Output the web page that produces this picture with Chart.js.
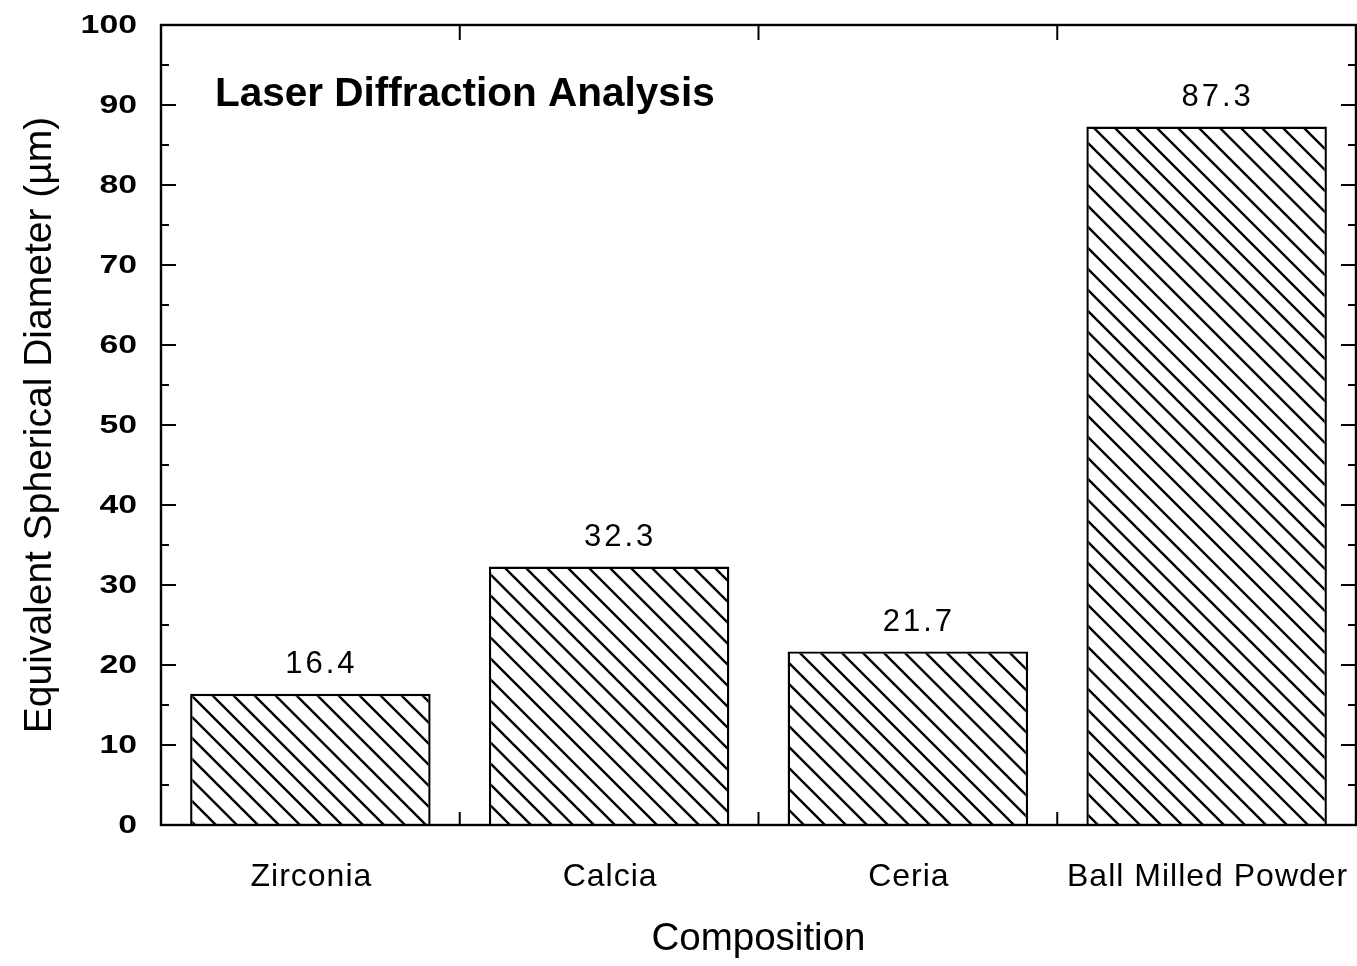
<!DOCTYPE html>
<html><head><meta charset="utf-8">
<script src="https://cdn.jsdelivr.net/npm/chart.js@4/dist/chart.umd.min.js"></script>
<style>html,body{margin:0;padding:0;background:#fff}canvas{display:block}</style>
</head><body>
<canvas id="c" width="1357" height="966"></canvas>
<script>
const categories = ['Zirconia', 'Calcia', 'Ceria', 'Ball Milled Powder'];
const diameters = [16.4, 32.3, 21.7, 87.3];
const valueLabels = ['16.4', '32.3', '21.7', '87.3'];
const chartTitle = 'Laser Diffraction Analysis';
const xTitle = 'Composition';
const yTitle = 'Equivalent Spherical Diameter (\u00b5m)';
const yMin = 0, yMax = 100, yMinorStep = 5, yMajorStep = 10;

const FONT = "'Liberation Sans', Arial, Helvetica, sans-serif";
Chart.defaults.font.family = FONT;
Chart.defaults.color = '#000';

function makeHatch() {
  const s = 21;
  const c = document.createElement('canvas');
  c.width = s; c.height = s;
  const g = c.getContext('2d');
  g.fillStyle = '#fff'; g.fillRect(0, 0, s, s);
  g.strokeStyle = '#000'; g.lineWidth = 2.4;
  g.beginPath();
  for (const o of [-s, 0, s]) { g.moveTo(o - 3, -3); g.lineTo(o + s + 3, s + 3); }
  g.stroke();
  return g.createPattern(c, 'repeat');
}

const framePlugin = {
  id: 'frame',
  afterDatasetsDraw(chart) {
    const { ctx, chartArea: a, scales: { x, y } } = chart;
    ctx.save();
    ctx.strokeStyle = '#000'; ctx.lineWidth = 2.4;
    ctx.strokeRect(a.left, a.top, a.right - a.left, a.bottom - a.top);
    ctx.lineWidth = 2;
    ctx.beginPath();
    y.ticks.forEach(t => {
      const py = y.getPixelForValue(t.value);
      const L = t.value % yMajorStep === 0 ? 15 : 8;
      ctx.moveTo(a.left, py); ctx.lineTo(a.left + L, py);
      ctx.moveTo(a.right, py); ctx.lineTo(a.right - L, py);
    });
    for (let i = 1; i < categories.length; i++) {
      const px = (x.getPixelForValue(i - 1) + x.getPixelForValue(i)) / 2;
      ctx.moveTo(px, a.top); ctx.lineTo(px, a.top + 15);
      ctx.moveTo(px, a.bottom); ctx.lineTo(px, a.bottom - 13);
    }
    ctx.stroke();

    ctx.fillStyle = '#000';
    ctx.font = 'bold 26px ' + FONT;
    ctx.textAlign = 'right'; ctx.textBaseline = 'middle';
    y.ticks.forEach(t => {
      if (t.value % yMajorStep !== 0) return;
      ctx.save();
      ctx.translate(a.left - 24, y.getPixelForValue(t.value) + 1);
      ctx.scale(1.3, 1);
      ctx.fillText(String(t.value), 0, 0);
      ctx.restore();
    });

    const meta = chart.getDatasetMeta(0);
    ctx.font = '31px ' + FONT;
    ctx.letterSpacing = '3px';
    ctx.textAlign = 'center';
    meta.data.forEach((b, i) => ctx.fillText(valueLabels[i], b.x + 11, b.y - 29));

    ctx.letterSpacing = '0px';
    ctx.font = 'bold 40.5px ' + FONT;
    ctx.textAlign = 'left';
    ctx.fillText(chartTitle, a.left + 54, a.top + 70);
    ctx.restore();
  }
};

new Chart(document.getElementById('c'), {
  type: 'bar',
  data: {
    labels: categories,
    datasets: [{
      data: diameters,
      backgroundColor: makeHatch(),
      borderColor: '#000',
      borderWidth: 2.4,
      categoryPercentage: 1.0,
      barPercentage: 0.805
    }]
  },
  options: {
    responsive: false,
    animation: false,
    events: [],
    layout: { padding: { top: 25, right: 1, left: 0, bottom: 0 } },
    plugins: { legend: { display: false }, tooltip: { enabled: false } },
    scales: {
      x: {
        grid: { display: false, drawTicks: false },
        border: { display: false },
        ticks: { font: { size: 32 }, padding: 33, color: '#000', maxRotation: 0 },
        title: { display: true, text: xTitle, font: { size: 38.5 }, padding: { top: 0, bottom: 4 }, color: '#000' },
        afterFit(s) {
          s.height = 141; s.paddingLeft = 0; s.paddingRight = 0;
          if (!s._spaced) {
            const orig = s.drawLabels.bind(s);
            s.drawLabels = function (area) {
              this.ctx.save();
              this.ctx.letterSpacing = '1px';
              this.ctx.translate(1, 0);
              orig(area);
              this.ctx.restore();
            };
            s._spaced = true;
          }
        }
      },
      y: {
        min: yMin, max: yMax,
        grid: { display: false, drawTicks: false },
        border: { display: false },
        ticks: { display: false, stepSize: yMinorStep },
        title: { display: true, text: yTitle, font: { size: 39 }, padding: { top: 17, bottom: 0 }, color: '#000' },
        afterFit(s) { s.width = 161; s.paddingTop = 0; s.paddingBottom = 0; }
      }
    }
  },
  plugins: [framePlugin]
});
</script>
</body></html>
